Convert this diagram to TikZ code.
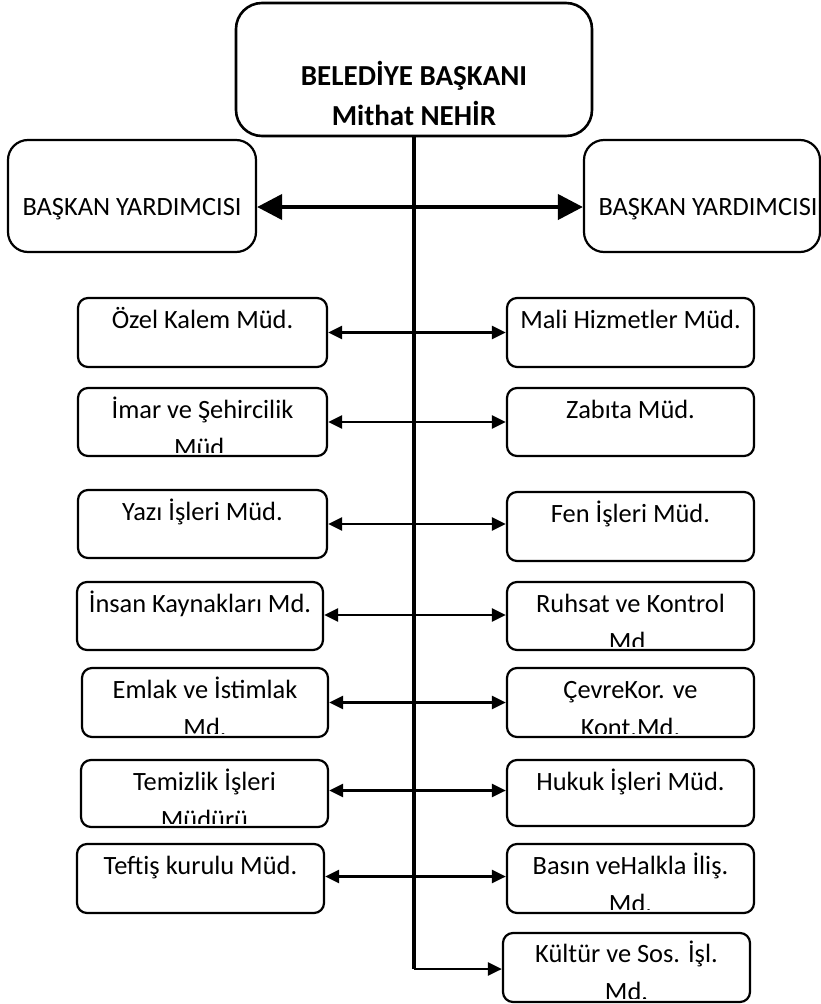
\documentclass[tikz,border=0pt]{standalone}
\usepackage{fontspec}
\setmainfont{Carlito}
\usetikzlibrary{arrows.meta,calc}
\tikzset{
  box/.style={draw, line width=2.2pt, inner sep=0pt, rounded corners=10pt},
  bigbox/.style={box, rounded corners=20pt},
  topbox/.style={box, rounded corners=26pt, line width=2.6pt},
  boxtext/.style={anchor=base, inner sep=0pt, font={\fontsize{26.4}{38}\selectfont\def\lsp{38pt}}},
  bigboxtext/.style={boxtext},
  topboxtext/.style={anchor=base, inner sep=0pt, font={\fontsize{29}{40}\selectfont\bfseries\def\lsp{40pt}}},
  stem/.style={line width=3.8pt},
  bigarrow/.style={line width=4pt, {Triangle[length=25pt,width=25pt]}-{Triangle[length=25pt,width=25pt]}},
  rowarrow/.style={line width=2.6pt, {Triangle[length=14pt,width=13pt]}-{Triangle[length=14pt,width=13pt]}},
  onearrow/.style={line width=2.6pt, -{Triangle[length=14pt,width=13pt]}},
}
\newcommand\tline[1]{\hbox to 0pt{\hss#1\hss}}
\newcommand\orgbox[8]{%
  \node[#1, minimum width={#5-#3}, minimum height={#6-#4},
    path picture={%
      \clip ([shift={(4pt,4pt)}]path picture bounding box.south west) rectangle
            ([shift={(-4pt,-4pt)}]path picture bounding box.north east);
      \node[#1text] (#2t) at ([yshift=-#7pt]path picture bounding box.north)
      {\vtop{\baselineskip=\lsp\lineskiplimit=-100pt\lineskip=0pt\relax #8}};}]
    (#2) at ({(#3+#5)/2},{(#4+#6)/2}) {};}
\begin{document}
\begin{tikzpicture}[x=1pt,y=-1pt]
\useasboundingbox (0,0) rectangle (821,1004);
% top
\orgbox{topbox}{bb}{236}{3}{592}{136}{82}{\tline{BELEDİYE BAŞKANI}\tline{Mithat NEHİR}}
\orgbox{bigbox}{byl}{8}{140}{256}{252}{75}{\tline{BAŞKAN YARDIMCISI}}
\orgbox{bigbox}{byr}{584}{140}{820}{252}{75}{\tline{\hspace*{12pt}BAŞKAN YARDIMCISI}}
% left column
\orgbox{box}{oz}{78}{298}{327}{367}{30}{\tline{Özel Kalem Müd.}}
\orgbox{box}{im}{78}{388}{327}{456}{30}{\tline{İmar ve Şehircilik}\tline{Müd.}}
\orgbox{box}{yz}{78}{490}{327}{558}{30}{\tline{Yazı İşleri Müd.}}
\orgbox{box}{in}{77}{582}{323}{650}{30}{\tline{İnsan Kaynakları Md.}}
\orgbox{box}{em}{82}{668}{328}{737}{30}{\tline{Emlak ve İstimlak}\tline{Md.}}
\orgbox{box}{te}{81}{760}{328}{827}{30}{\tline{Temizlik İşleri}\tline{Müdürü}}
\orgbox{box}{tf}{77}{844}{324}{913}{30}{\tline{Teftiş kurulu Müd.}}
% right column
\orgbox{box}{ma}{507}{298}{754}{367}{30}{\tline{Mali Hizmetler Müd.}}
\orgbox{box}{za}{507}{388}{754}{456}{30}{\tline{Zabıta Müd.}}
\orgbox{box}{fe}{507}{492}{754}{561}{30}{\tline{Fen İşleri Müd.}}
\orgbox{box}{ru}{507}{582}{754}{650}{30}{\tline{Ruhsat ve Kontrol}\tline{Md.}}
\orgbox{box}{ce}{507}{668}{754}{737}{30}{\tline{ÇevreKor. ve}\tline{Kont.Md.}}
\orgbox{box}{hu}{507}{760}{754}{826}{30}{\tline{Hukuk İşleri Müd.}}
\orgbox{box}{ba}{507}{844}{754}{913}{30}{\tline{Basın veHalkla İliş.}\tline{Md.}}
\orgbox{box}{ku}{503}{933}{750}{1002}{29}{\tline{Kültür ve Sos. İşl.}\tline{Md.}}
% connectors
\coordinate (vend) at (414,969);
\draw[stem] (bb.south) -- (vend);
\draw[bigarrow] ([yshift=-11pt]byl.east) -- ([yshift=-11pt]byr.west);
\draw[rowarrow] (oz.east) -- (oz.east -| ma.west);
\draw[rowarrow] (im.east) -- (im.east -| za.west);
\draw[rowarrow] (yz.east) -- (yz.east -| fe.west);
\draw[rowarrow] ([yshift=1pt]in.east) -- ([yshift=1pt]in.east -| ru.west);
\draw[rowarrow] (em.east) -- (em.east -| ce.west);
\draw[rowarrow] ([yshift=3pt]te.east) -- ([yshift=3pt]te.east -| hu.west);
\draw[rowarrow] ([yshift=2pt]tf.east) -- ([yshift=2pt]tf.east -| ba.west);
\draw[onearrow] (vend) -- (vend -| ku.west);
\end{tikzpicture}
\end{document}
